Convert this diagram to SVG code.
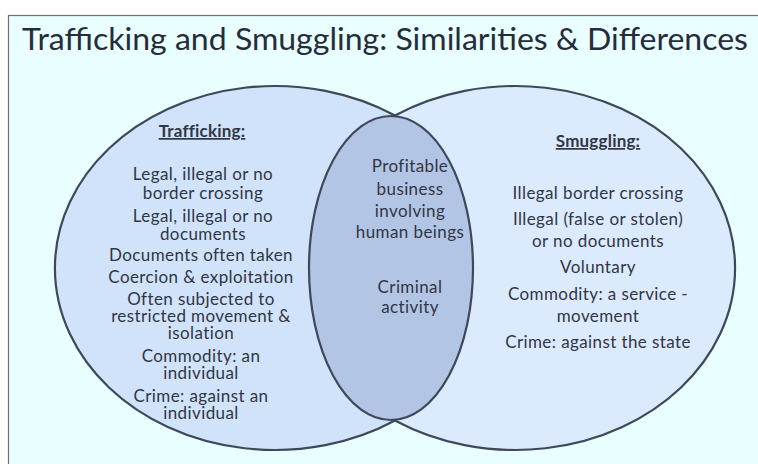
<svg xmlns="http://www.w3.org/2000/svg" width="758" height="464" viewBox="0 0 758 464">
  <style>
    .panel { fill: #e9feff; stroke: #707070; stroke-width: 1.2; }
    .ring { stroke: #3f4858; stroke-width: 2.2; stroke-linejoin: round; }
    .left { fill: #d0e3fa; }
    .right { fill: #dbeafd; }
    .mid { fill: #b3c5e4; }
    .title { font-family: Lato, "Open Sans", "Liberation Sans", sans-serif; font-size: 31px; fill: #262c3a; }
    .t { font-family: Lato, "Open Sans", "Liberation Sans", sans-serif; font-size: 17px; fill: #313644; text-anchor: middle; letter-spacing: 0.4px; }
    .h { font-weight: bold; text-decoration: underline; letter-spacing: 0.2px; }
  </style>

  <!-- slide panel -->
  <rect x="0" y="0" width="758" height="464" fill="#ffffff"/>
  <rect class="panel" x="8.5" y="15.5" width="760" height="460"/>

  <text class="title" x="22" y="50" textLength="726" lengthAdjust="spacingAndGlyphs">Trafficking and Smuggling: Similarities &amp; Differences</text>

  <!-- Trafficking set: outer arc of the left ellipse, closed under the overlap -->
  <g id="trafficking">
    <path class="ring left" d="M 395 115.5 A 220 182 0 1 0 395 420.5 Z"/>
  </g>

  <!-- Smuggling set: outer arc of the right ellipse -->
  <g id="smuggling">
    <path class="ring right" d="M 395 115.5 A 220 182 0 1 1 395 420.5 Z"/>
  </g>

  <!-- overlap -->
  <g id="overlap">
    <ellipse class="ring mid" cx="391" cy="268" rx="82" ry="152"/>
    <text class="t" x="410" y="172">Profitable</text>
    <text class="t" x="410" y="195">business</text>
    <text class="t" x="410" y="217">involving</text>
    <text class="t" x="410" y="238">human beings</text>
    <text class="t" x="410" y="293">Criminal</text>
    <text class="t" x="410" y="313">activity</text>
  </g>

  <g id="trafficking-text">
    <text class="t h" x="202" y="137">Trafficking:</text>
    <text class="t" x="203" y="180">Legal, illegal or no</text>
    <text class="t" x="203" y="199">border crossing</text>
    <text class="t" x="203" y="222">Legal, illegal or no</text>
    <text class="t" x="203" y="240">documents</text>
    <text class="t" x="201" y="261">Documents often taken</text>
    <text class="t" x="201" y="283">Coercion &amp; exploitation</text>
    <text class="t" x="201" y="305">Often subjected to</text>
    <text class="t" x="201" y="322">restricted movement &amp;</text>
    <text class="t" x="201" y="339">isolation</text>
    <text class="t" x="201" y="362">Commodity: an</text>
    <text class="t" x="201" y="379">individual</text>
    <text class="t" x="201" y="402">Crime: against an</text>
    <text class="t" x="201" y="419">individual</text>
  </g>

  <g id="smuggling-text">
    <text class="t h" x="598" y="147">Smuggling:</text>
    <text class="t" x="598" y="199">Illegal border crossing</text>
    <text class="t" x="598" y="225">Illegal (false or stolen)</text>
    <text class="t" x="598" y="247">or no documents</text>
    <text class="t" x="598" y="273">Voluntary</text>
    <text class="t" x="598" y="300">Commodity: a service -</text>
    <text class="t" x="598" y="322">movement</text>
    <text class="t" x="598" y="348">Crime: against the state</text>
  </g>
</svg>
